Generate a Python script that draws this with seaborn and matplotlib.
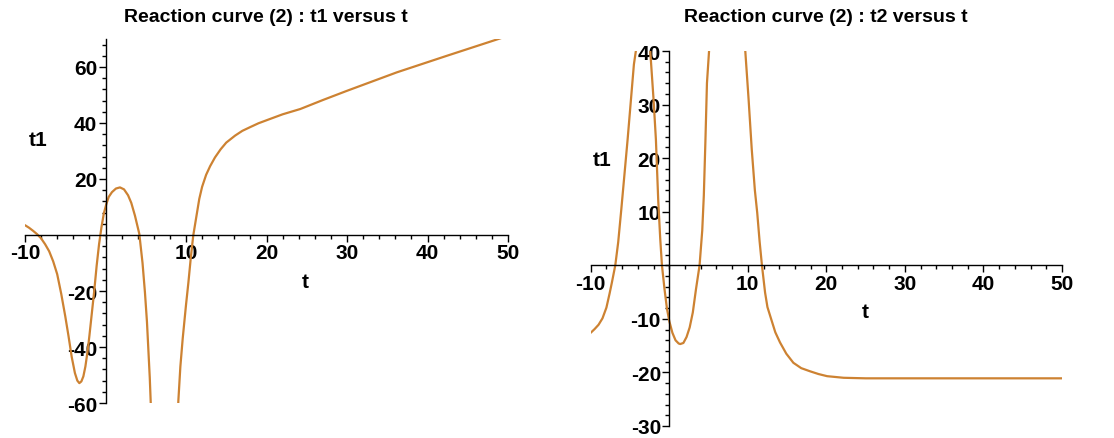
import numpy as np
import pandas as pd
import matplotlib
matplotlib.use("Agg")
import matplotlib.pyplot as plt
from matplotlib.ticker import MultipleLocator
import seaborn as sns

# ---- data ----
t1_t = [-10, -9.5, -9.0, -8.5, -8.0, -7.5, -7.0, -6.5, -6.0, -5.5, -5.0, -4.6,
        -4.2, -3.8, -3.5, -3.25, -3.0, -2.75, -2.5, -2.2, -2.0, -1.7, -1.4, -1.1,
        -0.8, -0.5, -0.2, 0.1, 0.4, 0.8, 1.3, 1.8, 2.3, 2.8, 3.2, 3.66, 4.2, 4.6,
        4.9, 5.15, 5.32, 5.5, 5.61, 5.75, 6.0, 8.7, 9.05, 9.3, 9.59, 10.0, 10.3,
        10.6, 10.9, 11.3, 11.65, 12.0, 12.5, 13.0, 13.6, 14.3, 15.0, 16.1, 17.0,
        17.95, 19.0, 20.4, 22.0, 24.2, 27.0, 30.0, 36.2, 42.4, 48.8, 50.0]
t1_v = [3.5, 2.6, 1.5, 0.3, -1.2, -3.3, -5.8, -9.4, -14.0, -21.0, -29.0, -36.0,
        -43.5, -49.3, -52.0, -52.9, -52.3, -50.5, -47.0, -41.0, -36.0, -28.0, -20.0, -11.0,
        -3.3, 2.8, 7.8, 11.0, 13.6, 15.3, 16.6, 17.0, 16.3, 14.2, 11.5, 6.9, 0.4, -10.0,
        -20.5, -31.0, -40.7, -51.0, -59.2, -70.0, -90.0, -90.0, -59.2, -47.0, -37.0, -25.0, -16.9,
        -8.0, -0.2, 6.8, 12.9, 17.2, 21.5, 24.6, 27.7, 30.6, 33.0, 35.5, 37.2,
        38.5, 39.9, 41.4, 43.1, 45.0, 48.2, 51.5, 58.1, 64.0, 70.0, 71.2]

t2_t = [-10, -9.5, -9.0, -8.5, -8.0, -7.6, -7.3, -6.87, -6.5, -6.1, -5.7, -5.3,
        -4.9, -4.5, -4.2, -3.8, -3.3, -2.8, -2.42, -2.0, -1.7, -1.4, -1.15, -0.93,
        -0.6, -0.3, 0.0, 0.4, 0.8, 1.2, 1.4, 1.8, 2.2, 2.6, 3.0, 3.4, 3.86, 4.2,
        4.4, 4.6, 4.8, 5.09, 5.4, 5.6, 9.3, 9.5, 9.68, 10.1, 10.5, 10.9, 11.2, 11.5,
        11.8, 12.2, 12.5, 12.86, 13.5, 14.1, 14.9, 15.8, 16.8, 17.95, 19.0, 20.1,
        22.2, 25.0, 50.0]
t2_v = [-12.6, -11.9, -11.1, -9.9, -7.9, -5.3, -3.2, 0.0, 4.3, 10.5, 17.0, 23.5,
        30.5, 37.5, 40.5, 45.0, 47.0, 45.0, 40.0, 31.0, 23.5, 12.0, 5.0, 0.0,
        -4.5, -8.0, -10.4, -12.6, -14.0, -14.6, -14.7, -14.5, -13.4, -11.6, -8.8, -4.5, 0.0, 6.5,
        13.0, 23.0, 34.0, 40.5, 55.0, 70.0, 70.0, 50.0, 40.0, 31.0, 21.7, 14.0, 9.8, 4.5,
        0.0, -5.1, -7.8, -9.5, -12.5, -14.4, -16.5, -18.2, -19.2, -19.8, -20.3, -20.7,
        -21.0, -21.1, -21.1]

left_xticks = [-10, 10, 20, 30, 40, 50]
left_yticks = [-60, -40, -20, 20, 40, 60]
right_xticks = [-10, 10, 20, 30, 40, 50]
right_yticks = [-30, -20, -10, 10, 20, 30, 40]

titles = ["Reaction curve (2) : t1 versus t", "Reaction curve (2) : t2 versus t"]
ylabels = ["t1", "t1"]
xlabels = ["t", "t"]

LINE = "#CD8232"
W, H = 1114, 439

sns.set_theme(style="white")
plt.rcParams['font.family'] = ['Liberation Sans', 'DejaVu Sans']
plt.rcParams['font.weight'] = 'bold'

fig = plt.figure(figsize=(W / 100, H / 100), dpi=100)
fig.patch.set_facecolor("white")

def px_ax(x0, x1, ytop, ybot):
    return fig.add_axes([x0 / W, 1 - ybot / H, (x1 - x0) / W, (ybot - ytop) / H])

axL = px_ax(25, 508, 40, 404)
axR = px_ax(590.7, 1062, 52, 427)

dfL = pd.DataFrame({"t": t1_t, "v": t1_v})
dfR = pd.DataFrame({"t": t2_t, "v": t2_v})
sns.lineplot(data=dfL, x="t", y="v", ax=axL, sort=False, estimator=None,
             color=LINE, linewidth=1.6)
sns.lineplot(data=dfR, x="t", y="v", ax=axR, sort=False, estimator=None,
             color=LINE, linewidth=1.6)

axL.set_xlim(-10, 50)
axL.set_ylim(-60, 70)
axR.set_xlim(-10, 50)
axR.set_ylim(-30, 40)

for ax, xt, yt, ymin_loc in [(axL, left_xticks, left_yticks, 4),
                             (axR, right_xticks, right_yticks, 2)]:
    ax.set_facecolor("none")
    ax.spines["left"].set_position(("data", 0))
    ax.spines["bottom"].set_position(("data", 0))
    ax.spines["top"].set_visible(False)
    ax.spines["right"].set_visible(False)
    for s in ("left", "bottom"):
        ax.spines[s].set_color("black")
        ax.spines[s].set_linewidth(1.0)
    ax.set_xticks(xt)
    ax.set_xticklabels([str(v) for v in xt])
    ax.set_yticks(yt)
    ax.set_yticklabels([str(v) for v in yt])
    ax.xaxis.set_minor_locator(MultipleLocator(2))
    ax.yaxis.set_minor_locator(MultipleLocator(ymin_loc))
    ax.tick_params(which="major", direction="out", length=5, width=1,
                   color="black", labelsize=15, pad=1, labelcolor="black")
    ax.tick_params(which="minor", direction="out", length=3, width=1, color="black")
    ax.tick_params(axis="x", which="both", bottom=True)
    ax.tick_params(axis="y", which="both", left=True)
    for lab in ax.get_xticklabels() + ax.get_yticklabels():
        lab.set_fontweight("bold")
    ax.set_xlabel("")
    ax.set_ylabel("")
    ax.grid(False)

def ptext(x, y, s, size):
    fig.text(x / W, 1 - y / H, s, ha="center", va="center", fontsize=size,
             fontweight="bold", color="black")

ptext(266, 17, titles[0], 14)
ptext(826, 17, titles[1], 14)
ptext(38, 140, ylabels[0], 15)
ptext(602, 160, ylabels[1], 15)
ptext(305, 282, xlabels[0], 15)
ptext(865, 313, xlabels[1], 15)

fig.savefig("out.png", dpi=100, facecolor="white")
